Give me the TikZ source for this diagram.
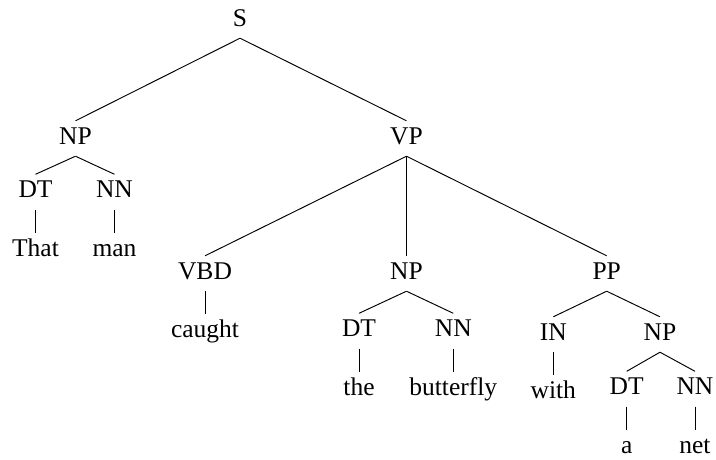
\documentclass[tikz,border=0pt]{standalone}
\usepackage{fontspec}
\setmainfont{Liberation Serif}
\begin{document}
\begin{tikzpicture}[x=1pt,y=-1pt,
  lbl/.style={anchor=base,inner sep=0pt,text height=23pt,text depth=12pt,
    font=\fontsize{25.5}{29}\selectfont},
  edge/.style={line width=0.95pt}]
\useasboundingbox (0,0) rectangle (716,459);
% phrase and tag nodes (placed by baseline)
\node[lbl] (S)   at (240,26)    {S};
\node[lbl] (np1) at (75.5,144)  {NP};
\node[lbl] (vp)  at (406.5,144) {VP};
\node[lbl] (dt1) at (35.5,197.5) {DT};
\node[lbl] (nn1) at (114.5,197.5) {NN};
\node[lbl] (w1)  at (35.5,256)  {That};
\node[lbl] (w2)  at (114.5,256) {man};
\node[lbl] (vbd) at (205,279)   {VBD};
\node[lbl] (np2) at (406.5,279) {NP};
\node[lbl] (pp)  at (606.7,279) {PP};
\node[lbl] (w3)  at (205,337)   {caught};
\node[lbl] (dt2) at (359,336.5) {DT};
\node[lbl] (nn2) at (453.3,336.5) {NN};
\node[lbl] (in)  at (553.3,340) {IN};
\node[lbl] (np3) at (660,340)   {NP};
\node[lbl] (w4)  at (359,395)   {the};
\node[lbl] (w5)  at (453.3,395) {butterfly};
\node[lbl] (w6)  at (553.3,398) {with};
\node[lbl] (dt3) at (626.7,394.5) {DT};
\node[lbl] (nn3) at (695,394.5) {NN};
\node[lbl] (w7)  at (626.7,453) {a};
\node[lbl] (w8)  at (695,453)   {net};
% branches
\foreach \p/\c in {S/np1,S/vp,np1/dt1,np1/nn1,dt1/w1,nn1/w2,
                   vp/vbd,vp/np2,vp/pp,vbd/w3,np2/dt2,np2/nn2,
                   dt2/w4,nn2/w5,pp/in,pp/np3,in/w6,np3/dt3,np3/nn3,
                   dt3/w7,nn3/w8}
  \draw[edge] (\p.south) -- (\c.north);
\end{tikzpicture}
\end{document}
